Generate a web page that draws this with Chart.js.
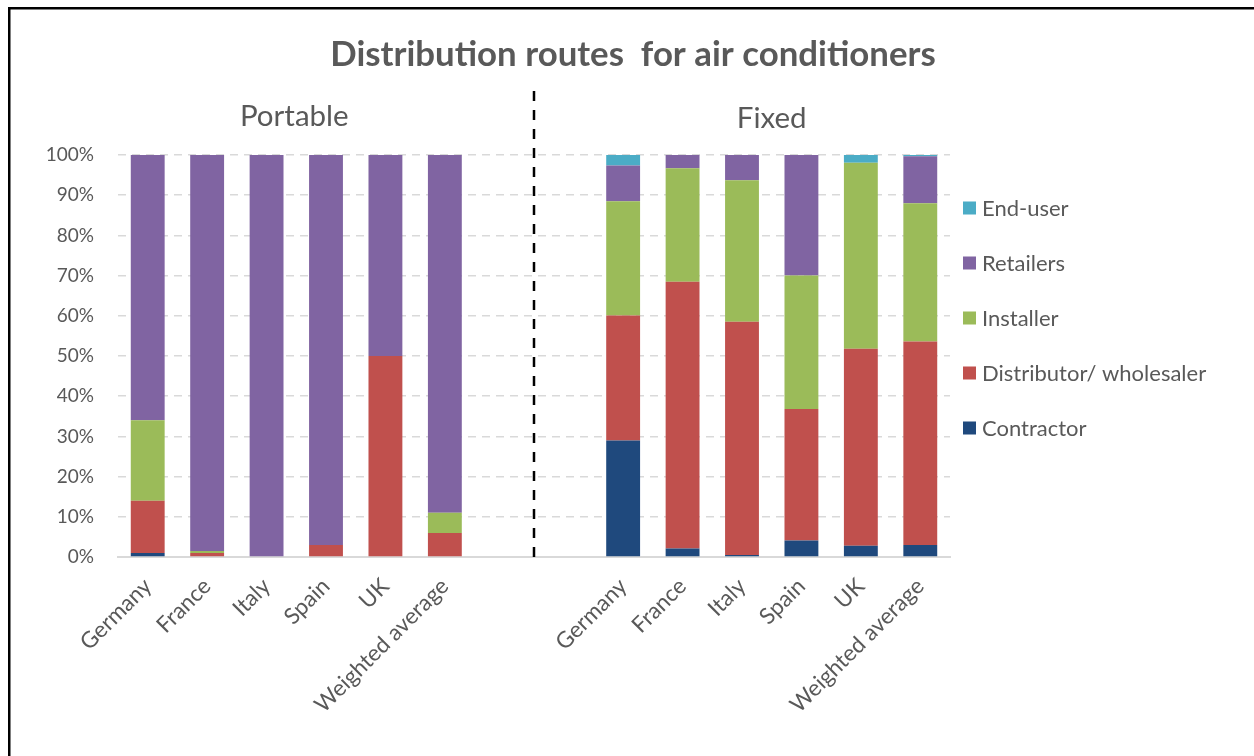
<!DOCTYPE html>
<html><head><meta charset="utf-8">
<script src="https://cdn.jsdelivr.net/npm/chart.js@4/dist/chart.umd.min.js"></script>
<style>html,body{margin:0;padding:0;background:#fff;overflow:hidden}</style>
</head><body>
<canvas id="c" width="1254" height="756"></canvas>
<script>
const categories = ['Germany','France','Italy','Spain','UK','Weighted average','','','Germany','France','Italy','Spain','UK','Weighted average'];
const groupLabels = ['Portable','Fixed'];
const contractor  = [1,   0,    0,   0,  0,  0,  null, null, 29,   2.1,  0.5,  4.1,  2.8,  3.0];
const distributor = [13,  1,    0,   3,  50, 6,  null, null, 31.1, 66.4, 58,   32.7, 49,   50.6];
const installer   = [20,  0.5,  0,   0,  0,  5,  null, null, 28.4, 28.2, 35.2, 33.2, 46.3, 34.4];
const retailers   = [66,  98.5, 100, 97, 50, 89, null, null, 8.9,  3.3,  6.3,  30,   0,    11.7];
const endUser     = [0,   0,    0,   0,  0,  0,  null, null, 2.6,  0,    0,    0,    1.9,  0.3];
const yTickValues = [0,10,20,30,40,50,60,70,80,90,100];

const FONT = 'Lato';
const GREY = '#595959';

const extras = {
  id: 'extras',
  afterDraw(chart) {
    const ctx = chart.ctx, x = chart.scales.x, a = chart.chartArea;
    ctx.save();
    // outer frame
    ctx.strokeStyle = '#000'; ctx.lineWidth = 2.5;
    ctx.strokeRect(9.25, 8.25, 1400, 900);
    // group subtitles
    ctx.fillStyle = GREY;
    ctx.font = '29.5px ' + FONT;
    ctx.textAlign = 'center'; ctx.textBaseline = 'middle';
    ctx.fillText(groupLabels[0], (x.getPixelForValue(0) + x.getPixelForValue(5)) / 2 - 2, a.top - 39);
    ctx.fillText(groupLabels[1], (x.getPixelForValue(8) + x.getPixelForValue(13)) / 2, a.top - 37);
    // separator
    const sx = Math.round((x.getPixelForValue(6) + x.getPixelForValue(7)) / 2);
    ctx.setLineDash([10, 9]); ctx.lineWidth = 2.5; ctx.strokeStyle = '#000';
    ctx.beginPath(); ctx.moveTo(sx, 91); ctx.lineTo(sx, a.bottom + 1); ctx.stroke();
    ctx.setLineDash([]);
    // legend (reverse order)
    const ds = chart.data.datasets.slice().reverse();
    ctx.font = '22px ' + FONT; ctx.textAlign = 'left';
    ds.forEach((d, i) => {
      const cy = 208 + 55 * i;
      ctx.fillStyle = d.backgroundColor;
      ctx.fillRect(963, cy - 6.5, 13, 13);
      ctx.fillStyle = GREY;
      ctx.fillText(d.label, 982, cy + 1);
    });
    ctx.restore();
  }
};

new Chart(document.getElementById('c'), {
  type: 'bar',
  data: {
    labels: categories,
    datasets: [
      {label: 'Contractor', data: contractor, backgroundColor: '#1F497D'},
      {label: 'Distributor/ wholesaler', data: distributor, backgroundColor: '#C0504D'},
      {label: 'Installer', data: installer, backgroundColor: '#9BBB59'},
      {label: 'Retailers', data: retailers, backgroundColor: '#8064A2'},
      {label: 'End-user', data: endUser, backgroundColor: '#4BACC6'}
    ]
  },
  options: {
    responsive: false,
    animation: false,
    devicePixelRatio: 1,
    datasets: {bar: {categoryPercentage: 1, barPercentage: 0.57, borderWidth: 0}},
    layout: {padding: {left: 12, right: 0, top: 0, bottom: 0}},
    plugins: {
      legend: {display: false},
      tooltip: {enabled: false},
      title: {
        display: true,
        text: 'Distribution routes  for air conditioners',
        color: GREY,
        font: {family: FONT, size: 34.8, weight: 'bold', lineHeight: 1.2},
        padding: {top: 34, bottom: 79.24}
      }
    },
    scales: {
      x: {
        stacked: true,
        grid: {display: false},
        border: {display: true, color: '#d9d9d9', width: 2},
        ticks: {color: GREY, font: {family: FONT, size: 22.5}, maxRotation: 45, minRotation: 45, autoSkip: false, padding: 8},
        afterFit(s) { s.height = 199; }
      },
      y: {
        stacked: true,
        min: 0, max: 100,
        afterBuildTicks(s) { s.ticks = yTickValues.map(v => ({value: v})); },
        grid: {color: '#d9d9d9', lineWidth: 1.5, drawTicks: false},
        border: {display: false, dash: [8, 6]},
        ticks: {color: GREY, font: {family: FONT, size: 19}, padding: 24, callback: v => v + '%'},
        afterFit(s) { s.width = 106; }
      },
      side: {
        type: 'linear',
        position: 'right',
        grid: {display: false},
        border: {display: false},
        ticks: {display: false},
        afterFit(s) { s.width = 304; }
      }
    }
  },
  plugins: [extras]
});
</script>
</body></html>
